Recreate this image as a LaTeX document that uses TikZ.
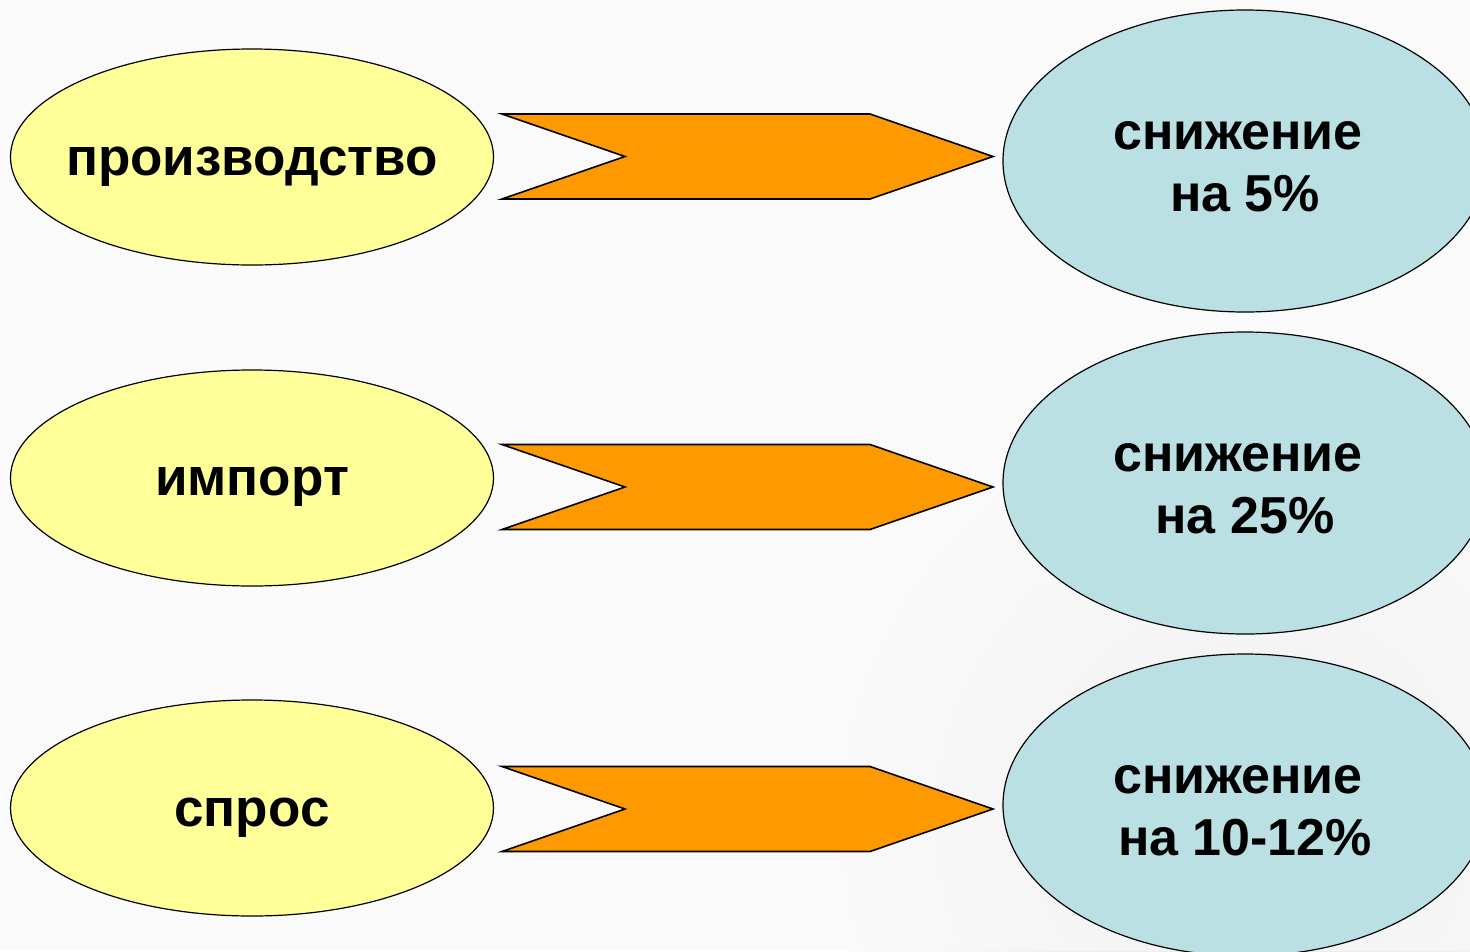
\documentclass[tikz,border=0pt]{standalone}
\usepackage{fontspec}
\setmainfont{Liberation Sans}
\usetikzlibrary{shapes.geometric}
\definecolor{bgcol}{RGB}{250,250,250}
\definecolor{yellowfill}{RGB}{255,255,153}
\definecolor{orangefill}{RGB}{255,153,0}
\definecolor{bluefill}{RGB}{186,224,227}
\definecolor{texturecol}{RGB}{228,228,228}
\tikzset{
  srcell/.style={ellipse, draw=black, line width=1.2pt, fill=yellowfill, inner sep=0pt,
    minimum width=483pt, minimum height=216pt},
  dstell/.style={ellipse, draw=black, line width=1.2pt, fill=bluefill, inner sep=0pt,
    minimum width=484pt, minimum height=302pt},
  srctxt/.style={anchor=base, inner sep=0pt, font=\fontsize{53}{63}\selectfont\bfseries},
  dsttxt/.style={anchor=base, inner sep=0pt, font=\fontsize{52}{62}\selectfont\bfseries},
  chevron/.style={draw=black, line width=1.6pt, fill=orangefill, line join=miter}
}
\begin{document}
\begin{tikzpicture}[x=1pt, y=-1pt]
  \useasboundingbox (0,0) rectangle (1470,951);
  \clip (0,0) rectangle (1470,951);
  % background
  \fill[bgcol] (0,0) rectangle (1470,951);
  \shade[inner color=texturecol, outer color=bgcol] (1250,820) circle (420);
  \fill[bgcol, opacity=0.6] (0,0) rectangle (1470,951);

  % source ellipses
  \node[srcell] (p1) at (252,157) {};
  \node[srcell] (p2) at (252,478) {};
  \node[srcell] (p3) at (252,808) {};
  \node[srctxt] (tp1) at ([yshift=-18pt]p1.center) {производство};
  \node[srctxt] (tp2) at ([yshift=-17pt]p2.center) {импорт};
  \node[srctxt] (tp3) at ([yshift=-18pt]p3.center) {спрос};

  % result ellipses
  \node[dstell] (r1) at (1245,161) {};
  \node[dstell] (r2) at (1245,483) {};
  \node[dstell] (r3) at (1245,805) {};
  \foreach \r/\t in {1/5, 2/25, 3/10-12} {
    \node[dsttxt] (ra\r) at ([xshift=-7pt, yshift=12pt]r\r.center) {снижение};
    \node[dsttxt] (rb\r) at ([yshift=-50pt]r\r.center) {на \t\%};
  }

  % chevrons between them
  \foreach \i/\y in {1/156.5, 2/487, 3/809} {
    \coordinate (c\i) at (502,\y);
    \draw[chevron] (c\i) ++(0,-42.5) -- ++(368,0) -- ++(123,42.5) -- ++(-123,42.5)
      -- ++(-368,0) -- ++(123,-42.5) -- cycle;
  }
\end{tikzpicture}
\end{document}
